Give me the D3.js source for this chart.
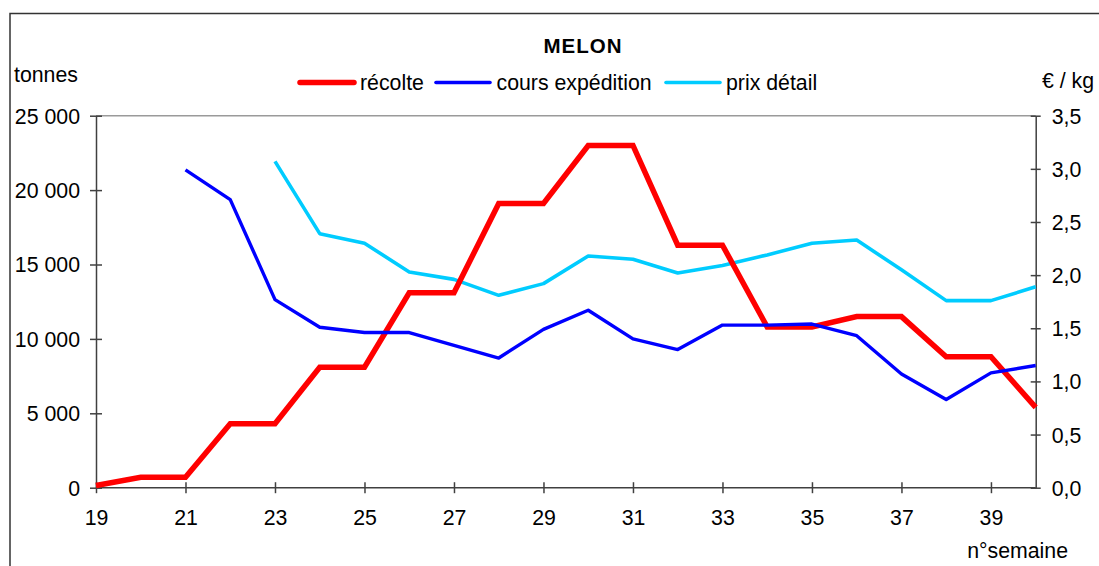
<!DOCTYPE html>
<html>
<head>
<meta charset="utf-8">
<script src="https://cdn.jsdelivr.net/npm/d3@7"></script>
<style>
  html, body { margin: 0; padding: 0; background: #fff; }
  svg text { font-family: "Liberation Sans", Arial, sans-serif; fill: #000; }
</style>
</head>
<body>
<svg id="chart" width="1099" height="566"></svg>
<script>
// Weekly melon figures: harvest (tonnes) and prices (€/kg)
const weeks = [19, 20, 21, 22, 23, 24, 25, 26, 27, 28, 29, 30, 31, 32, 33, 34, 35, 36, 37, 38, 39, 40];
const recolte = [150, 700, 700, 4300, 4300, 8100, 8100, 13100, 13100, 19100, 19100, 23000, 23000, 16300, 16300, 10800, 10800, 11500, 11500, 8800, 8800, 5400];
const coursExpedition = [null, null, 2.99, 2.71, 1.77, 1.51, 1.46, 1.46, 1.34, 1.22, 1.49, 1.67, 1.40, 1.30, 1.53, 1.53, 1.54, 1.43, 1.07, 0.83, 1.08, 1.15];
const prixDetail = [null, null, null, null, 3.07, 2.39, 2.30, 2.03, 1.96, 1.81, 1.92, 2.18, 2.15, 2.02, 2.09, 2.19, 2.30, 2.33, 2.05, 1.76, 1.76, 1.89];

const xTicks = [19, 21, 23, 25, 27, 29, 31, 33, 35, 37, 39];
const leftTicks = [0, 5000, 10000, 15000, 20000, 25000];
const rightTicks = [0, 0.5, 1.0, 1.5, 2.0, 2.5, 3.0, 3.5];

const seriesNames = ["récolte", "cours expédition", "prix détail"];
const title = "MELON";

const svg = d3.select("#chart");
const L = 96, R = 1035.7, T = 115.7, B = 487.7;
const axisColor = "#404040";
const fontSize = "21.3px";

const x = d3.scaleLinear().domain([19, 40]).range([L, R]);
const yL = d3.scaleLinear().domain([0, 25000]).range([B, T]);
const yR = d3.scaleLinear().domain([0, 3.5]).range([B, T]);

// Outer chart frame
svg.append("rect")
  .attr("x", 10).attr("y", 13.5).attr("width", 1200).attr("height", 700)
  .attr("fill", "none").attr("stroke", "#333").attr("stroke-width", 1.5);

// Plot-area top border
svg.append("line")
  .attr("x1", L).attr("x2", R).attr("y1", T).attr("y2", T)
  .attr("stroke", "#9a9a9a").attr("stroke-width", 1.5);

const fmtThousands = d => d === 0 ? "0" : d3.format(",")(d).replace(/,/g, " ");
const fmtComma = d => d3.format(".1f")(d).replace(".", ",");

function styleAxis(g) {
  g.select(".domain").attr("stroke", axisColor).attr("stroke-width", 1.5);
  g.selectAll(".tick line").attr("stroke", axisColor).attr("stroke-width", 1.5);
  g.selectAll(".tick text").attr("font-size", fontSize).attr("fill", "#000")
    .style("font-family", '"Liberation Sans", Arial, sans-serif');
}

// Left axis (tonnes)
const gL = svg.append("g").attr("transform", `translate(${L},0)`)
  .call(d3.axisLeft(yL).tickValues(leftTicks).tickFormat(fmtThousands).tickSizeOuter(0).tickSizeInner(6).tickPadding(10));
styleAxis(gL);
gL.selectAll(".tick line").attr("x1", 6).attr("x2", -6);
gL.selectAll(".tick text").attr("dy", "0.35em");

// Right axis (€/kg)
const gR = svg.append("g").attr("transform", `translate(${R},0)`)
  .call(d3.axisRight(yR).tickValues(rightTicks).tickFormat(fmtComma).tickSizeOuter(0).tickSizeInner(5).tickPadding(11));
styleAxis(gR);
gR.selectAll(".tick line").attr("x1", -5).attr("x2", 5);
gR.selectAll(".tick text").attr("dy", "0.35em");

// Bottom axis (week number)
const gB = svg.append("g").attr("transform", `translate(0,${B})`)
  .call(d3.axisBottom(x).tickValues(xTicks).tickFormat(d3.format("d")).tickSizeOuter(0).tickSizeInner(5.5).tickPadding(17));
styleAxis(gB);
gB.selectAll(".tick line").attr("y1", -5.5).attr("y2", 5.5);
gB.select(".domain").attr("d", `M${L},0H${R}`);

// Series lines
const line = (yScale) => d3.line()
  .defined(d => d.v !== null)
  .x(d => x(d.w)).y(d => yScale(d.v));

const toPts = arr => weeks.map((w, i) => ({ w, v: arr[i] }));

svg.append("path").datum(toPts(prixDetail))
  .attr("d", line(yR)).attr("fill", "none")
  .attr("stroke", "#00CCFF").attr("stroke-width", 3.6).attr("stroke-linejoin", "round");

svg.append("path").datum(toPts(recolte))
  .attr("d", line(yL)).attr("fill", "none")
  .attr("stroke", "#FF0000").attr("stroke-width", 5.5).attr("stroke-linejoin", "miter");

svg.append("path").datum(toPts(coursExpedition))
  .attr("d", line(yR)).attr("fill", "none")
  .attr("stroke", "#0000FF").attr("stroke-width", 3.4).attr("stroke-linejoin", "round");

// Title
svg.append("text").attr("x", 583).attr("y", 53)
  .attr("text-anchor", "middle").attr("font-size", "20.5px").attr("font-weight", "bold")
  .attr("letter-spacing", "1px").text(title);

// Axis titles
svg.append("text").attr("x", 14).attr("y", 82).attr("font-size", fontSize).text("tonnes");
svg.append("text").attr("x", 1042).attr("y", 88).attr("font-size", fontSize).text("€ / kg");
svg.append("text").attr("x", 1068).attr("y", 558).attr("text-anchor", "end").attr("font-size", fontSize).text("n°semaine");

// Legend
const legend = [
  { name: seriesNames[0], color: "#FF0000", w: 5.5, x1: 300, x2: 354, tx: 360 },
  { name: seriesNames[1], color: "#0000FF", w: 3.6, x1: 436, x2: 490, tx: 496.5 },
  { name: seriesNames[2], color: "#00CCFF", w: 3.6, x1: 666, x2: 720, tx: 726 }
];
const lg = svg.append("g");
legend.forEach(d => {
  lg.append("line").attr("x1", d.x1).attr("x2", d.x2).attr("y1", 82.5).attr("y2", 82.5)
    .attr("stroke", d.color).attr("stroke-width", d.w).attr("stroke-linecap", "round");
  lg.append("text").attr("x", d.tx).attr("y", 90).attr("font-size", fontSize).text(d.name);
});
</script>
</body>
</html>
